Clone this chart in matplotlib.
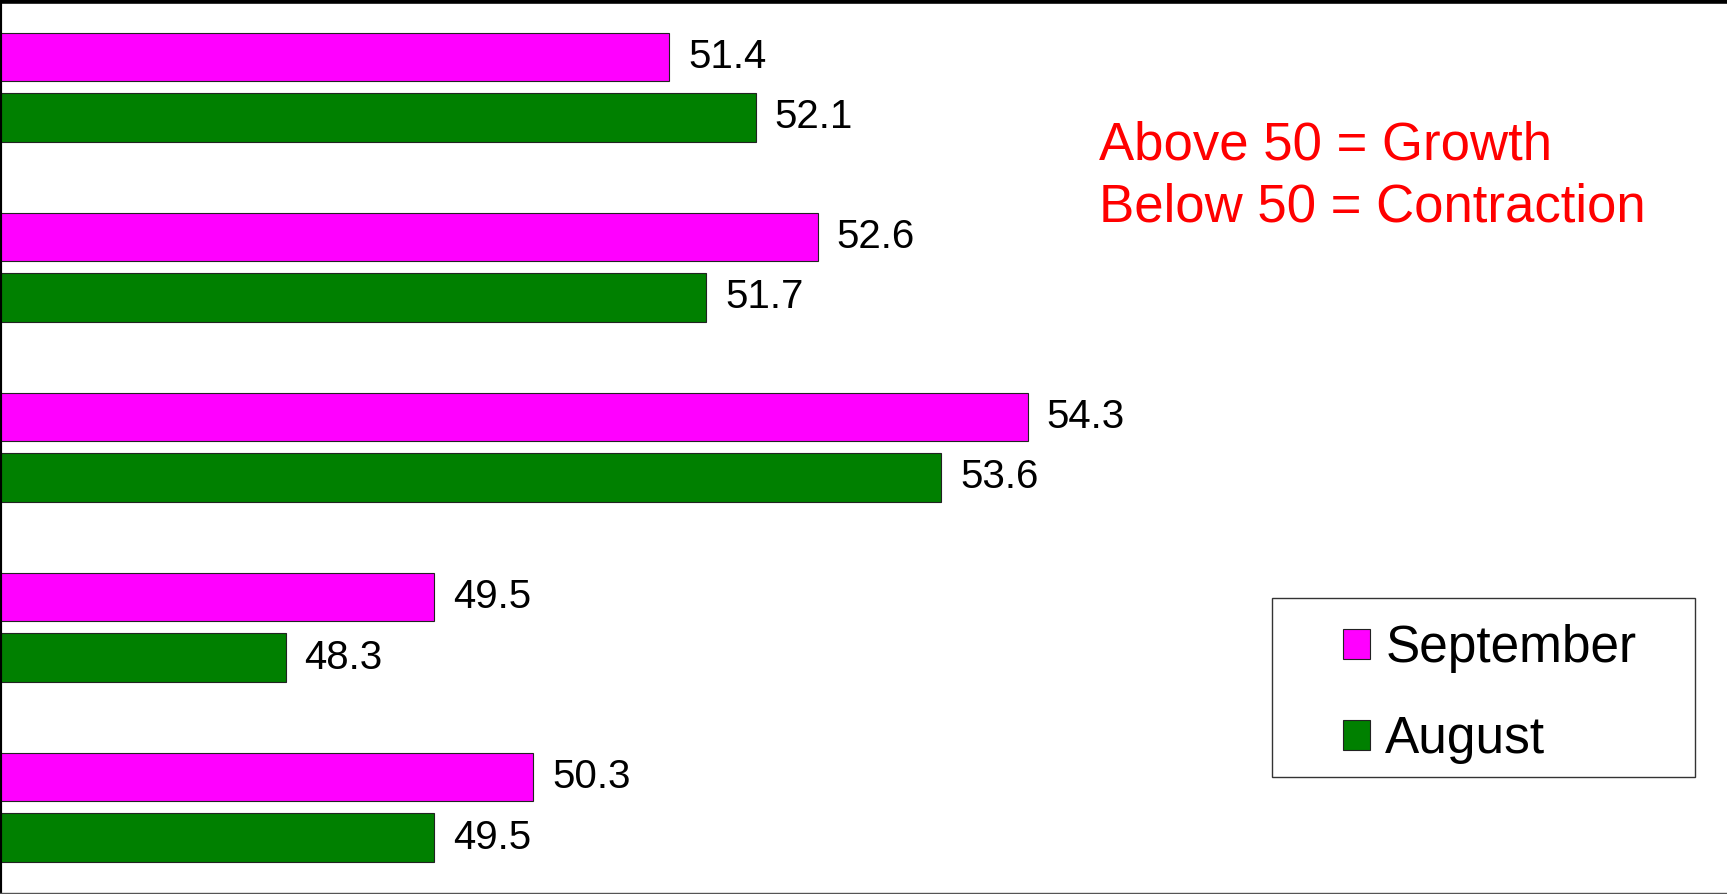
import matplotlib.pyplot as plt
from matplotlib.patches import Rectangle
import numpy as np

plt.rcParams['font.family'] = ['Liberation Sans', 'DejaVu Sans']

# values, top row first
rows = np.arange(5)
september = [51.4, 52.6, 54.3, 49.5, 50.3]
august = [52.1, 51.7, 53.6, 48.3, 49.5]
series_names = ["September", "August"]

W, H = 1727, 894
fig = plt.figure(figsize=(W / 100, H / 100), dpi=100)
ax = fig.add_axes([0, 1 / H, 1, (H - 1) / H])

off = 0.168
bh = 0.268
b1 = ax.barh(rows - off, september, height=bh, color="#FF00FF",
             edgecolor="#222222", linewidth=0.8, label=series_names[0])
b2 = ax.barh(rows + off, august, height=bh, color="#008000",
             edgecolor="#222222", linewidth=0.8, label=series_names[1])

ax.bar_label(b1, fmt="%.1f", padding=13.5, fontsize=29)
ax.bar_label(b2, fmt="%.1f", padding=13.5, fontsize=29)

ax.set_xlim(45.99, 59.95)
ax.set_ylim(4.476, -0.484)
ax.set_xticks([])
ax.set_yticks([])

ax.spines["right"].set_visible(False)
ax.spines["top"].set_linewidth(4.75)
ax.spines["top"].set_color("black")
ax.spines["left"].set_linewidth(3)
ax.spines["left"].set_color("black")
ax.spines["bottom"].set_linewidth(1)
ax.spines["bottom"].set_color("#555555")

fig.text(1099 / W, 1 - 120 / H, "Above 50 = Growth\nBelow 50 = Contraction",
         color="red", fontsize=38, va="top", ha="left", linespacing=1.32)

# legend box
fig.patches.append(Rectangle((1272 / W, (H - 777) / H), 423 / W, 179 / H,
                             transform=fig.transFigure, facecolor="none",
                             edgecolor="#333333", linewidth=1))
ax.legend(handles=[b1, b2], loc="upper left",
          bbox_to_anchor=(1343 / W, 1 - 624 / H), bbox_transform=fig.transFigure,
          frameon=False, fontsize=37, handlelength=0.525, handleheight=0.525,
          handletextpad=0.3, borderpad=0, borderaxespad=0, labelspacing=0.82)

fig.savefig("out.png", dpi=100)
